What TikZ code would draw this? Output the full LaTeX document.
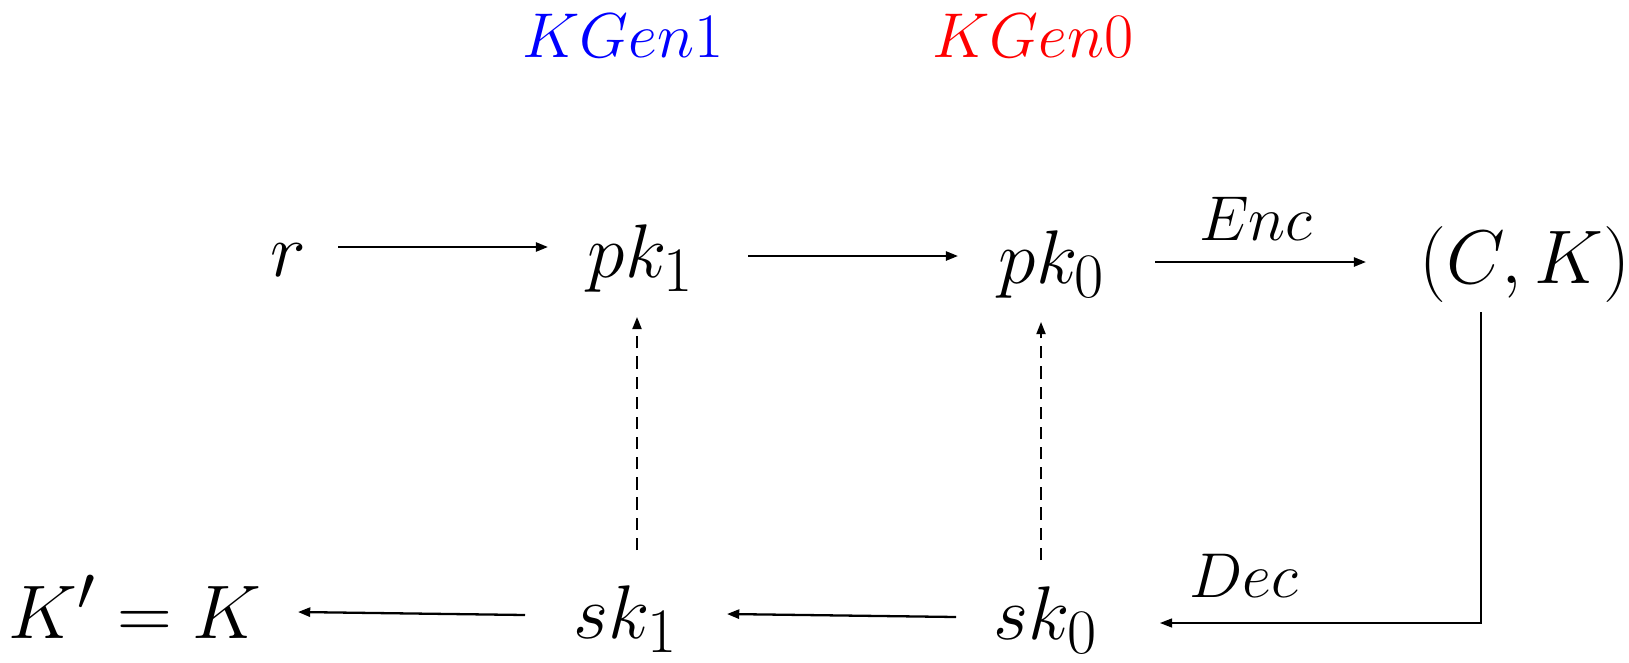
\documentclass[tikz,border=0pt]{standalone}
\usetikzlibrary{arrows.meta,calc}
\begin{document}
\begin{tikzpicture}[x=0.3274pt,y=-0.3274pt,
  lbl/.style={inner sep=0pt, anchor=base, font=\Huge},
  tag/.style={inner sep=0pt, anchor=base, font=\huge},
  arr/.style={line width=0.75pt, -{Triangle[length=4pt,width=3pt]}},
  dsh/.style={line width=0.6pt, dash pattern=on 4pt off 2.6pt, -{Triangle[length=4pt,width=3pt]}},
  thin line/.style={line width=0.4pt, -{Triangle[length=4pt,width=3pt]}},
]
\useasboundingbox (0,0) rectangle (1629,663);
% top labels
\node[tag, text=blue] (kg1) at (623,57) {$KGen1$};
\node[tag, text=red]  (kg0) at (1033,57) {$KGen0$};
% top row
\node[lbl] (r)   at (288,276)  {$r$};
\node[lbl] (pk1) at (641,277)  {$pk_1$};
\node[lbl] (pk0) at (1052,283) {$pk_0$};
\node[lbl] (ck)  at (1525,283) {$(C,K)$};
\node[tag] (enc) at (1256,240) {$Enc$};
% bottom row
\node[lbl] (kk)  at (135,638)  {$K'=K$};
\node[lbl] (sk1) at (626,638)  {$sk_1$};
\node[lbl] (sk0) at (1046,639) {$sk_0$};
\node[tag] (dec) at (1244,597) {$Dec$};
% connectors
\draw[arr] ($(r.base)+(50,-29)$) -- ($(pk1.base)+(-93,-30)$);
\draw[arr] ($(pk1.base)+(107,-21)$) -- ($(pk0.base)+(-94,-27)$);
\draw[arr] ($(pk0.base)+(103,-21)$) -- ($(ck.base)+(-159,-21)$);
\draw[thin line] ($(ck.base)+(-44,29)$) |- ($(sk0.base)+(114,-16)$);
\draw[arr] ($(sk0.base)+(-90,-22)$) -- ($(sk1.base)+(101,-24)$);
\draw[arr] ($(sk1.base)+(-101,-23)$) -- ($(kk.base)+(163,-26)$);
\draw[dsh] ($(sk1.base)+(11,-88)$) -- ($(pk1.base)+(-4,40)$);
\draw[dsh] ($(sk0.base)+(-5,-79)$) -- ($(pk0.base)+(-11,39)$);
\end{tikzpicture}
\end{document}
